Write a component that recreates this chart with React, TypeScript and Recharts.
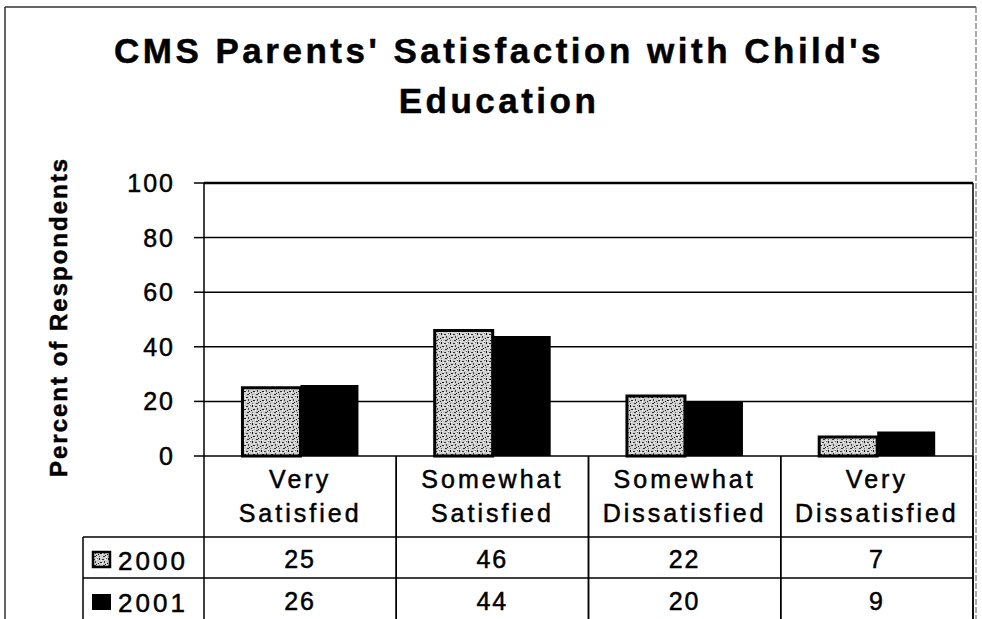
import React from "react";
import { BarChart, Bar, XAxis, YAxis, CartesianGrid } from "recharts";

const categories = ["Very Satisfied", "Somewhat Satisfied", "Somewhat Dissatisfied", "Very Dissatisfied"];
const categoryLines = [
  ["Very", "Satisfied"],
  ["Somewhat", "Satisfied"],
  ["Somewhat", "Dissatisfied"],
  ["Very", "Dissatisfied"],
];
const values2000 = [25, 46, 22, 7];
const values2001 = [26, 44, 20, 9];
const seriesNames = ["2000", "2001"];
const yTicks = [0, 20, 40, 60, 80, 100];

const data = categories.map((c, i) => ({ name: c, v2000: values2000[i], v2001: values2001[i] }));

const W = 982;
const H = 619;
const PLOT_L = 204;
const PLOT_R = 973;
const PLOT_T = 183;
const PLOT_B = 456;
const BW = (PLOT_R - PLOT_L) / categories.length;
const FONT = "'Liberation Sans', Arial, Helvetica, sans-serif";
const TXT = { fontFamily: FONT, fill: "#000", stroke: "#000", strokeWidth: 0.5 };

const CatTick = (props: any) => {
  const { x, index } = props;
  const lines = categoryLines[index] || [];
  return (
    <g>
      <line x1={x - BW / 2} x2={x - BW / 2} y1={PLOT_B} y2={H} stroke="#000" strokeWidth={1.5} />
      <line x1={x + BW / 2} x2={x + BW / 2} y1={PLOT_B} y2={H} stroke="#000" strokeWidth={1.5} />
      {lines.map((t, k) => (
        <text key={k} x={x} y={488 + k * 34} textAnchor="middle" fontSize={25} letterSpacing={3} {...TXT}>
          {t}
        </text>
      ))}
      <text x={x} y={568} textAnchor="middle" fontSize={25} letterSpacing={2} {...TXT}>
        {values2000[index]}
      </text>
      <text x={x} y={610} textAnchor="middle" fontSize={25} letterSpacing={2} {...TXT}>
        {values2001[index]}
      </text>
    </g>
  );
};

const YTick = (props: any) => {
  const { x, y, payload } = props;
  return (
    <text x={x} y={y} dy={9} textAnchor="end" fontSize={25} letterSpacing={2} {...TXT}>
      {payload.value}
    </text>
  );
};

export default function App() {
  return (
    <div style={{ position: "absolute", left: 0, top: 0, width: W, height: H, background: "#fff", overflow: "hidden" }}>
      <svg width={0} height={0} style={{ position: "absolute" }}>
        <defs>
          <pattern id="stipple" width="9" height="9" patternUnits="userSpaceOnUse">
            <rect width="9" height="9" fill="#cfcfcf" />
            <rect x="0" y="0" width="1" height="2" fill="#111" />
            <rect x="3" y="1" width="2" height="1" fill="#333" />
            <rect x="7" y="0" width="1" height="1" fill="#555" />
            <rect x="1" y="4" width="2" height="1" fill="#222" />
            <rect x="5" y="3" width="1" height="2" fill="#444" />
            <rect x="8" y="5" width="1" height="1" fill="#111" />
            <rect x="4" y="7" width="2" height="1" fill="#333" />
            <rect x="0" y="7" width="1" height="1" fill="#666" />
            <rect x="6" y="6" width="1" height="1" fill="#222" />
            <rect x="2" y="2" width="1" height="1" fill="#fff" />
            <rect x="6" y="1" width="1" height="1" fill="#fff" />
            <rect x="3" y="5" width="1" height="1" fill="#fff" />
            <rect x="7" y="8" width="1" height="1" fill="#fff" />
            <rect x="1" y="8" width="1" height="1" fill="#eee" />
          </pattern>
        </defs>
      </svg>
      <BarChart
        width={W}
        height={H}
        data={data}
        margin={{ top: PLOT_T, right: W - PLOT_R, left: 0, bottom: 0 }}
        barCategoryGap="20%"
        barGap={0}
      >
        <CartesianGrid vertical={false} stroke="#000" strokeWidth={1.5} strokeOpacity={1} />
        <XAxis
          dataKey="name"
          height={H - PLOT_B}
          axisLine={false}
          tickLine={false}
          interval={0}
          tick={<CatTick />}
        />
        <YAxis
          width={PLOT_L}
          domain={[0, 100]}
          ticks={yTicks}
          interval={0}
          axisLine={{ stroke: "#000", strokeWidth: 1.5 }}
          tickLine={{ stroke: "#000", strokeWidth: 1.5 }}
          tickSize={10}
          tickMargin={19}
          tick={<YTick />}
        />
        <Bar dataKey="v2000" name={seriesNames[0]} fill="url(#stipple)" stroke="#000" strokeWidth={3} isAnimationActive={false} />
        <Bar dataKey="v2001" name={seriesNames[1]} fill="#000" isAnimationActive={false} />
      </BarChart>
      <svg width={W} height={H} style={{ position: "absolute", left: 0, top: 0, pointerEvents: "none" }}>
        <line x1={5} x2={976} y1={7} y2={7} stroke="#333" strokeWidth={1.5} />
        <line x1={5} x2={5} y1={7} y2={H} stroke="#333" strokeWidth={1.5} />
        <line x1={976} x2={976} y1={7} y2={H} stroke="#555" strokeWidth={1} strokeDasharray="6 2" />
        <line x1={PLOT_R} x2={PLOT_R} y1={PLOT_T} y2={H} stroke="#000" strokeWidth={1.5} />
        <line x1={PLOT_L} x2={PLOT_R} y1={PLOT_T} y2={PLOT_T} stroke="#000" strokeWidth={2.5} />
        <line x1={83} x2={PLOT_R} y1={537} y2={537} stroke="#000" strokeWidth={1.5} />
        <line x1={83} x2={PLOT_R} y1={578} y2={578} stroke="#000" strokeWidth={1.5} />
        <line x1={83} x2={83} y1={537} y2={H} stroke="#000" strokeWidth={1.5} />
        <text x={499} y={63} textAnchor="middle" fontSize={35} fontWeight="bold" letterSpacing={3.5} {...TXT}>
          CMS Parents' Satisfaction with Child's
        </text>
        <text x={499} y={113} textAnchor="middle" fontSize={35} fontWeight="bold" letterSpacing={3.5} {...TXT}>
          Education
        </text>
        <text
          x={0}
          y={0}
          transform="translate(67,317) rotate(-90)"
          textAnchor="middle"
          fontSize={24}
          fontWeight="bold"
          letterSpacing={2}
          {...TXT}
        >
          Percent of Respondents
        </text>
        <rect x={93} y={552} width={17} height={15} fill="url(#stipple)" stroke="#000" strokeWidth={2.5} />
        <text x={118} y={570} fontSize={26} letterSpacing={3} {...TXT}>
          {seriesNames[0]}
        </text>
        <rect x={92} y={594} width={19} height={16} fill="#000" />
        <text x={118} y={612} fontSize={26} letterSpacing={3} {...TXT}>
          {seriesNames[1]}
        </text>
      </svg>
    </div>
  );
}
